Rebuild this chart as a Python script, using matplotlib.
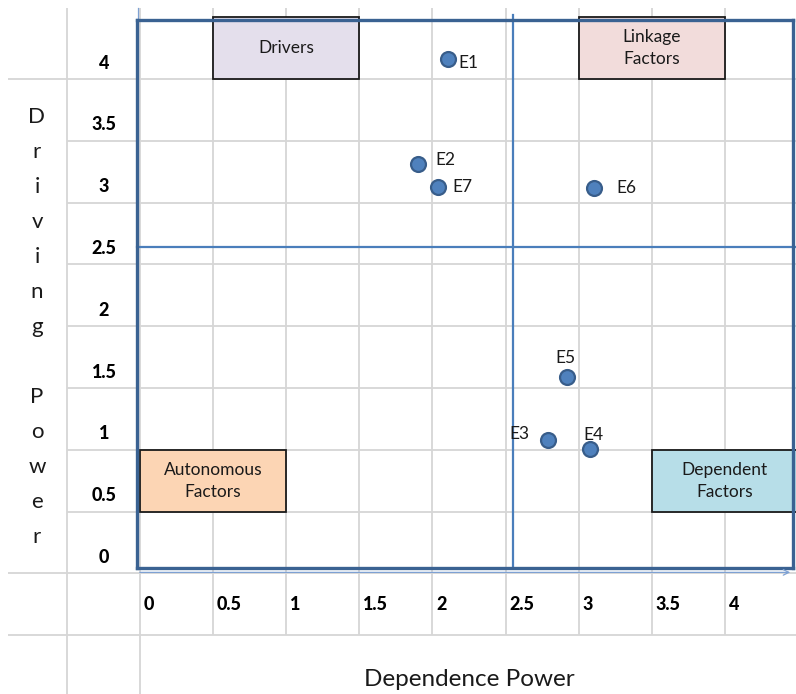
import matplotlib
matplotlib.use("Agg")
import matplotlib.pyplot as plt
from matplotlib.patches import Rectangle

plt.rcParams["font.family"] = ["Lato", "DejaVu Sans"]

# Points: (dependence power, driving power).
LABELS = ["E1", "E2", "E3", "E4", "E5", "E6", "E7"]
DEPENDENCE = [2.07, 1.87, 2.73, 3.01, 2.86, 3.04, 2.00]
DRIVING = [3.97, 3.15, 1.00, 0.93, 1.49, 2.96, 2.97]
THRESHOLD = 2.5

# Spreadsheet cell labels standing in for the axis ticks.
X_TICKS = ["0", "0.5", "1", "1.5", "2", "2.5", "3", "3.5", "4"]
Y_TICKS = ["4", "3.5", "3", "2.5", "2", "1.5", "1", "0.5", "0"]
X_TITLE = "Dependence Power"
Y_TITLE = "Driving Power"

QUADRANTS = ["Drivers", "Linkage\nFactors", "Autonomous\nFactors", "Dependent\nFactors"]
QUAD_COLORS = ["#e4dfec", "#f2dcdb", "#fcd5b4", "#b7dee8"]

# layout (pixels) --------------------------------------------------------
W, H = 796, 694
COL0, COLW = 140.0, 73.1
ROW0, ROWH = 79.0, 61.8
GRID = "#d6d6d6"
FRAME = "#3a6292"
QLINE = "#4a7ebb"

# label offsets in pixels (dx, dy, ha)
LABEL_POS = {
    "E1": (10, -4, "left"), "E2": (17, 4, "left"), "E3": (-18, 6, "right"),
    "E4": (-7, 14, "left"), "E5": (-2, 19, "center"), "E6": (22, 0, "left"),
    "E7": (14, 0, "left"),
}
# quadrant boxes as (col, row, ncols, nrows) in spreadsheet cells
QUAD_CELLS = [(1, -1, 2, 1), (6, -1, 2, 1), (0, 6, 2, 1), (7, 6, 2, 1)]

fig = plt.figure(figsize=(W / 100, H / 100), dpi=100)
fig.patch.set_facecolor("white")

# background sheet
bg = fig.add_axes([0, 0, 1, 1])
bg.set_xlim(0, W)
bg.set_ylim(H, 0)
bg.axis("off")

bg.vlines([67, COL0], 8, H, color=GRID, lw=1.3, zorder=1)
bg.vlines([COL0 + COLW * j for j in range(1, 9)], 8, ROW0 + ROWH * 9, color=GRID,
          lw=1.3, zorder=1)
for i in range(10):
    y = ROW0 + ROWH * i
    x0 = 8 if i in (0, 8, 9) else 67
    bg.hlines(y, x0, W, color=GRID, lw=1.3, zorder=1)

for text, fc, (c, r, nc, nr) in zip(QUADRANTS, QUAD_COLORS, QUAD_CELLS):
    x = COL0 + COLW * c
    y = ROW0 + ROWH * r
    bg.add_patch(Rectangle((x, y), COLW * nc, ROWH * nr, facecolor=fc,
                           edgecolor="#1a1a1a", lw=1.3, zorder=3))
    bg.text(x + COLW * nc / 2, y + ROWH * nr / 2, text, ha="center", va="center",
            fontsize=12.5, color="#1a1a1a", linespacing=1.45, zorder=4)

for j, t in enumerate(X_TICKS):
    bg.text(COL0 + COLW * j + 4, 605, t, ha="left", va="center",
            fontsize=13, fontweight="black", color="black")
for i, t in enumerate(Y_TICKS):
    bg.text(104, ROW0 + ROWH * i - 16, t, ha="center", va="center",
            fontsize=13, fontweight="black", color="black")

for k, ch in enumerate(Y_TITLE):
    if ch != " ":
        bg.text(37, 117 + 35 * k, ch, ha="center", va="center", fontsize=16, color="#1a1a1a")
bg.text(469, 680, X_TITLE, ha="center", va="center", fontsize=17.5, color="#1a1a1a")

# scatter chart on top of the sheet
ax = fig.add_axes([137 / W, (H - 568) / H, 656 / W, 548 / H])
ax.set_facecolor("none")
ax.set_xlim(0, 4.36)
ax.set_ylim(0, 4.27)
ax.set_xticks([])
ax.set_yticks([])
for s in ax.spines.values():
    s.set_color(FRAME)
    s.set_linewidth(2.4)

ax.axvline(THRESHOLD, ymax=1.01, color=QLINE, lw=1.6, clip_on=False)
ax.axhline(THRESHOLD, xmax=1.005, color=QLINE, lw=1.6, clip_on=False)
ax.annotate("", xy=(1.0, -0.008), xytext=(0, -0.008), xycoords="axes fraction",
            arrowprops=dict(arrowstyle="->", color="#7ea1d3", lw=0.9))
ax.plot([0.002, 0.002], [1.0, 1.022], transform=ax.transAxes, color="#7ea1d3",
        lw=0.9, clip_on=False)

ax.scatter(DEPENDENCE, DRIVING, s=115, c="#4f81bd", edgecolors="#385d8a",
           linewidths=1.6, zorder=3)
for lab, x, y in zip(LABELS, DEPENDENCE, DRIVING):
    dx, dy, ha = LABEL_POS[lab]
    ax.annotate(lab, (x, y), xytext=(dx, dy), textcoords="offset pixels",
                ha=ha, va="center", fontsize=12.5, color="#1a1a1a")

fig.savefig("out.png", dpi=100)
